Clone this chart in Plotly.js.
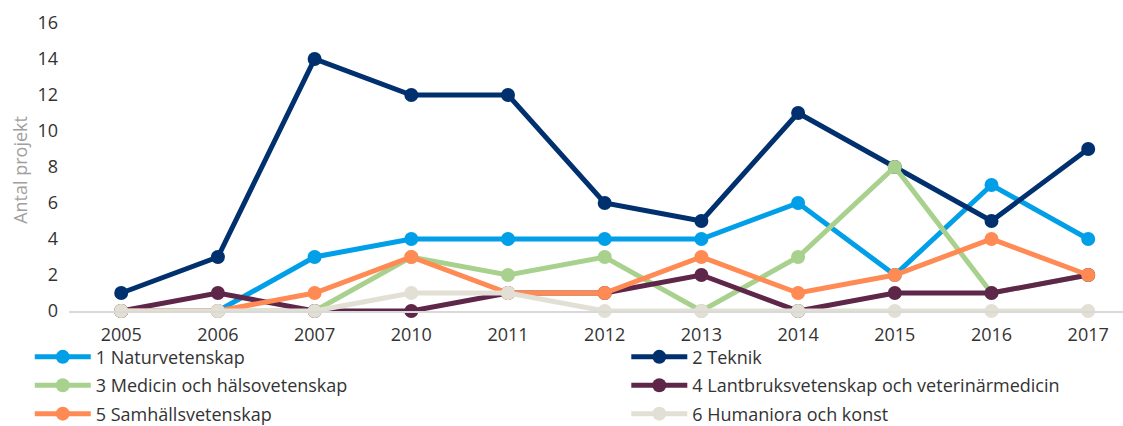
<!DOCTYPE html>
<html>
<head>
<meta charset="utf-8">
<script src="https://cdn.plot.ly/plotly-3.0.1.min.js"></script>
<style>html,body{margin:0;padding:0;background:#fff;}#chart{width:1123px;height:426px;}</style>
</head>
<body>
<div id="chart"></div>
<script>
var years = ["2005","2006","2007","2010","2011","2012","2013","2014","2015","2016","2017"];
var names = ["1 Naturvetenskap","2 Teknik","3 Medicin och hälsovetenskap","4 Lantbruksvetenskap och veterinärmedicin","5 Samhällsvetenskap","6 Humaniora och konst"];
var naturvetenskap = [0,0,3,4,4,4,4,6,2,7,4];
var teknik = [1,3,14,12,12,6,5,11,8,5,9];
var medicin = [0,0,0,3,2,3,0,3,8,1,2];
var lantbruk = [0,1,0,0,1,1,2,0,1,1,2];
var samhall = [0,0,1,3,1,1,3,1,2,4,2];
var humaniora = [0,0,0,1,1,0,0,0,0,0,0];
var yTicks = [0,2,4,6,8,10,12,14,16];
var yTitle = 'Antal projekt';
var colors = ["#009FE8","#00306E","#A9D18E","#5E2648","#FF8A54","#E2DFD5"];
var series = [naturvetenskap, teknik, medicin, lantbruk, samhall, humaniora];
var traces = series.map(function(s,i){
  return {x: years, y: s, name: names[i], type:'scatter', mode:'lines+markers',
    legend: (i % 2 === 0) ? 'legend' : 'legend2', legendgroup: 'g'+i,
    line:{color:colors[i], width:5}, marker:{color:colors[i], size:14}, cliponaxis:false};
});
var fontFam = '"Open Sans", Lato, sans-serif';
var legendCommon = {orientation:'v', xref:'container', yref:'container', xanchor:'left', yanchor:'top',
  y:0.205, itemwidth:56, tracegroupgap:2, font:{size:18, color:'#333', family:fontFam}, bgcolor:'rgba(0,0,0,0)'};
var legend1 = Object.assign({}, legendCommon, {x:0.0265});
var legend2 = Object.assign({}, legendCommon, {x:0.5577});
var layout = {
  width:1123, height:426,
  margin:{l:69, r:0, t:23, b:115, autoexpand:false},
  paper_bgcolor:'#fff', plot_bgcolor:'#fff',
  font:{family:fontFam, color:'#333', size:18},
  showlegend:true,
  xaxis:{type:'category', range:[-0.54,10.36], showgrid:false, zeroline:false,
    showline:true, linecolor:'#D9D9D9', linewidth:2, ticks:'', tickangle:0, ticklabelstandoff:6,
    tickfont:{size:18, color:'#333'}},
  yaxis:{range:[0,16], tickvals:yTicks, showgrid:false, zeroline:false, showline:false,
    ticks:'', tickfont:{size:18, color:'#333'}, ticklabelstandoff:10},
  annotations:[{text:yTitle, xref:'paper', yref:'paper', x:-0.0465, y:0.49, xanchor:'center', yanchor:'middle',
    textangle:-90, showarrow:false, font:{size:18, color:'#A0A0A0', family:fontFam}}],
  legend: legend1,
  legend2: legend2
};
Plotly.newPlot('chart', traces, layout, {displayModeBar:false, staticPlot:true});
</script>
</body>
</html>
